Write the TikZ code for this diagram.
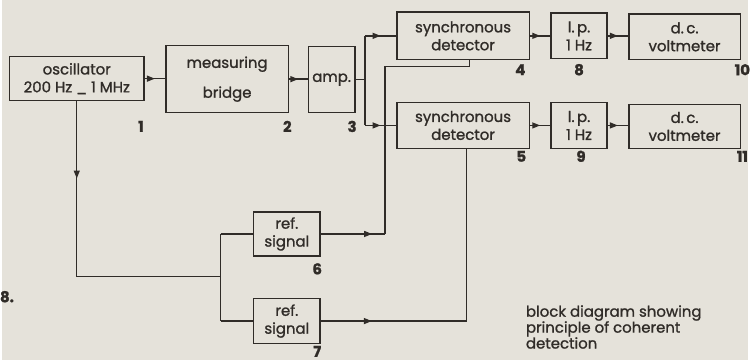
\documentclass[tikz,border=0pt]{standalone}
\usepackage{fontspec}
\setmainfont{Poppins}[FakeBold=1.2]
\usetikzlibrary{arrows.meta, positioning, decorations.markings}

\definecolor{paper}{RGB}{229,226,218}
\definecolor{ink}{RGB}{48,44,40}

\begin{document}
\begin{tikzpicture}[
  x=0.5pt, y=-0.5pt,
  box/.style={rectangle, draw=ink, line width=0.7pt, inner sep=0pt,
              align=center, font=\fontsize{7.5}{9}\selectfont, text=ink},
  num/.style={inner sep=0pt, font=\fontsize{7.5}{9}\selectfont\bfseries, text=ink},
  line/.style={draw=ink, line width=0.7pt},
  arr/.style={line, postaction={decorate},
              decoration={markings, mark=at position #1 with
                {\arrow{Triangle[length=4pt,width=3pt]}}}},
  arr/.default=0.5
]
% paper
\fill[paper] (0,0) rectangle (750,362);

% Top row
\node[box, minimum width=67.5pt, minimum height=22pt] (osc) at (75.5,79)
  {oscillator\\200 Hz \_ 1 MHz};
\node[box, minimum width=61.5pt, minimum height=33.5pt] (bridge) at (226.5,79.5)
  {measuring\\[6pt]bridge};
\node[box, minimum width=23.5pt, minimum height=33pt] (amp) at (331.5,80) {amp.};

% Detector channels
\node[box, minimum width=66.5pt, minimum height=24pt] (sync4) at (463.5,36)
  {synchronous\\detector};
\node[box, minimum width=28pt, minimum height=23pt] (lp8) at (580,36)
  {l.\,p.\\1 Hz};
\node[box, minimum width=56pt, minimum height=23pt] (dc10) at (686,37)
  {d.\,c.\\voltmeter};
\node[box, minimum width=66.5pt, minimum height=23pt] (sync5) at (463.5,126)
  {synchronous\\detector};
\node[box, minimum width=28pt, minimum height=23pt] (lp9) at (580,126)
  {l.\,p.\\1 Hz};
\node[box, minimum width=56pt, minimum height=22pt] (dc11) at (686,127)
  {d.\,c.\\voltmeter};

% Reference signals
\node[box, minimum width=33.5pt, minimum height=22pt] (ref6) at (286.5,235)
  {ref.\\signal};
\node[box, minimum width=33.5pt, minimum height=22.5pt] (ref7) at (286.5,322.5)
  {ref.\\signal};

% Numbers
\node[num] (n1) at (140,127) {1};
\node[num] (n2) at (287,127) {2};
\node[num] (n3) at (352,127) {3};
\node[num] (n4) at (521,70) {4};
\node[num] (n8) at (580,70) {8};
\node[num] (n10) at (744,70) {10};
\node[num] (n5) at (522,157) {5};
\node[num] (n9) at (582,157) {9};
\node[num] (n11) at (744,157) {11};
\node[num] (n6) at (317,270) {6};
\node[num] (n7) at (317,353) {7};
\node[num, anchor=west] (fig) at (-2,298) {8.};

% Caption
\node[box, draw=none, anchor=north west, align=left,
      font=\fontsize{7.5}{8}\selectfont] (cap) at (526,306)
  {block diagram showing\\principle of coherent\\detection};

% Signal chain
\draw[arr] (osc.east) -- (osc.east -| bridge.west);
\draw[arr] (bridge.east) -- (bridge.east -| amp.west);
\coordinate (split) at (365,80);
\draw[line] (amp.east) -- (split);
\draw[line] (split |- sync4.west) -- (split |- sync5.west);
\draw[arr] (split |- sync4.west) -- (sync4.west);
\draw[arr] (split |- sync5.west) -- (sync5.west);
\draw[arr] (sync4.east) -- (lp8.west);
\draw[arr] (lp8.east) -- (lp8.east -| dc10.west);
\draw[arr] (sync5.east) -- (lp9.west);
\draw[arr] (lp9.east) -- (lp9.east -| dc11.west);

% Reference path
\coordinate (oscdn) at (osc.south |- 0,278);
\coordinate (refsplit) at (220,278);
\draw[arr=0.44] (osc.south) -- (oscdn);
\draw[line] (oscdn) -- (refsplit);
\draw[line] (refsplit |- ref6.west) -- (refsplit |- ref7.west);
\draw[line] (refsplit |- ref6.west) -- (ref6.west);
\draw[line] (refsplit |- ref7.west) -- (ref7.west);

% Reference signals to the detectors
\coordinate (r6turn) at (385,235);
\coordinate (r6top) at (470,67);
\draw[arr=0.8] (ref6.east) -- (r6turn);
\draw[line] (r6turn) |- (r6top) -- (r6top |- sync4.south);
\coordinate (r7turn) at (467,322.5);
\draw[arr=0.35] (ref7.east) -- (r7turn);
\draw[line] (r7turn) -- (r7turn |- sync5.south);

\end{tikzpicture}
\end{document}
